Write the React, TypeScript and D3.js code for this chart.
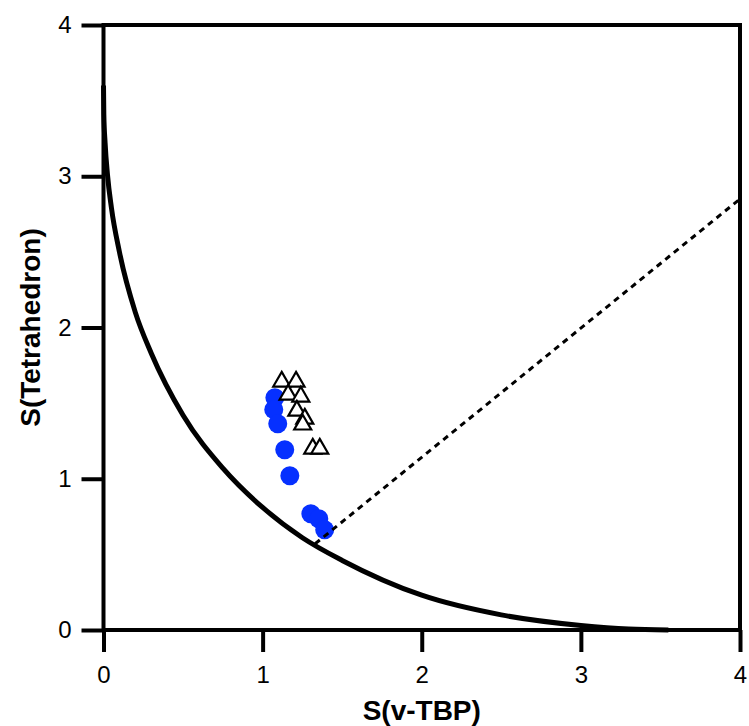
import * as React from "react";
import * as d3 from "d3";

// minimal distortion path between tetrahedron and vacant TBP
const pathX = [0, 0.002, 0.01, 0.025, 0.05, 0.1, 0.2, 0.3, 0.5, 0.75, 1.0, 1.25, 1.5, 2.0, 2.5, 3.0, 3.3, 3.55];
const pathY = [3.6, 3.41, 3.22, 3.01, 2.79, 2.5, 2.1, 1.83, 1.42, 1.07, 0.81, 0.61, 0.46, 0.23, 0.1, 0.03, 0.006, 0];

// dashed line end points
const dashX = [1.33, 4];
const dashY = [0.57, 2.85];

// blue filled circles
const circleX = [1.077, 1.07, 1.095, 1.139, 1.171, 1.303, 1.353, 1.39];
const circleY = [1.536, 1.457, 1.364, 1.192, 1.02, 0.768, 0.735, 0.662];

// open triangles
const triX = [1.12, 1.21, 1.16, 1.24, 1.215, 1.265, 1.252, 1.315, 1.359];
const triY = [1.642, 1.642, 1.556, 1.543, 1.45, 1.397, 1.358, 1.199, 1.199];

const xTicks = [0, 1, 2, 3, 4];
const yTicks = [0, 1, 2, 3, 4];

const W = 749;
const H = 726;
const margin = { top: 25, right: 9, bottom: 96, left: 103.5 };
const font = "'Liberation Sans', Arial, Helvetica, sans-serif";

export default function App() {
  const xAxisRef = React.useRef<SVGGElement>(null);
  const yAxisRef = React.useRef<SVGGElement>(null);

  const x = d3.scaleLinear().domain([0, 4]).range([margin.left, W - margin.right]);
  const y = d3.scaleLinear().domain([0, 4]).range([H - margin.bottom, margin.top]);

  React.useEffect(() => {
    const xa = d3.select(xAxisRef.current!);
    xa.call(d3.axisBottom(x).tickValues(xTicks).tickSize(22).tickSizeOuter(0).tickPadding(14).tickFormat(d3.format("d")) as any);
    xa.select(".domain").remove();
    xa.selectAll("line").attr("stroke", "#000").attr("stroke-width", 4);
    xa.selectAll("text").attr("font-size", 24).attr("font-family", font).attr("fill", "#000");

    const ya = d3.select(yAxisRef.current!);
    ya.call(d3.axisLeft(y).tickValues(yTicks).tickSize(22).tickSizeOuter(0).tickPadding(10).tickFormat(d3.format("d")) as any);
    ya.select(".domain").remove();
    ya.selectAll("line").attr("stroke", "#000").attr("stroke-width", 4);
    ya.selectAll("text").attr("font-size", 24).attr("font-family", font).attr("fill", "#000");
  }, []);

  const pathLine = d3
    .line<number>()
    .x((d) => x(d))
    .y((_, i) => y(pathY[i]))
    .curve(d3.curveMonotoneX);

  const tri = d3.symbol().type(d3.symbolTriangle).size(125)();

  const x0 = x(0), x1 = x(4), y0 = y(0), y1 = y(4);

  return (
    <svg width={W} height={H} style={{ position: "absolute", left: 0, top: 0, background: "#fff" }}>
      <path d={pathLine(pathX) || ""} fill="none" stroke="#000" strokeWidth={5} />

      {circleX.map((cx, i) => (
        <circle key={"c" + i} cx={x(cx)} cy={y(circleY[i])} r={9.5} fill="#0630ff" />
      ))}

      {triX.map((tx, i) => (
        <path
          key={"t" + i}
          d={tri || ""}
          transform={`translate(${x(tx)},${y(triY[i])})`}
          fill="#fff"
          stroke="#000"
          strokeWidth={2.2}
        />
      ))}

      <line
        x1={x(dashX[0])}
        y1={y(dashY[0])}
        x2={x(dashX[1])}
        y2={y(dashY[1])}
        stroke="#000"
        strokeWidth={3}
        strokeDasharray="6 5"
      />

      <rect x={x0} y={y1} width={x1 - x0} height={y0 - y1} fill="none" stroke="#000" strokeWidth={4} />

      <g ref={xAxisRef} transform={`translate(0,${y0})`} />
      <g ref={yAxisRef} transform={`translate(${x0},0)`} />

      <text x={(x0 + x1) / 2} y={720} textAnchor="middle" fontSize={28} fontWeight="bold" fontFamily={font}>
        S(v-TBP)
      </text>
      <text
        transform={`translate(40,${(y0 + y1) / 2}) rotate(-90)`}
        textAnchor="middle"
        fontSize={28}
        fontWeight="bold"
        fontFamily={font}
      >
        S(Tetrahedron)
      </text>
    </svg>
  );
}
